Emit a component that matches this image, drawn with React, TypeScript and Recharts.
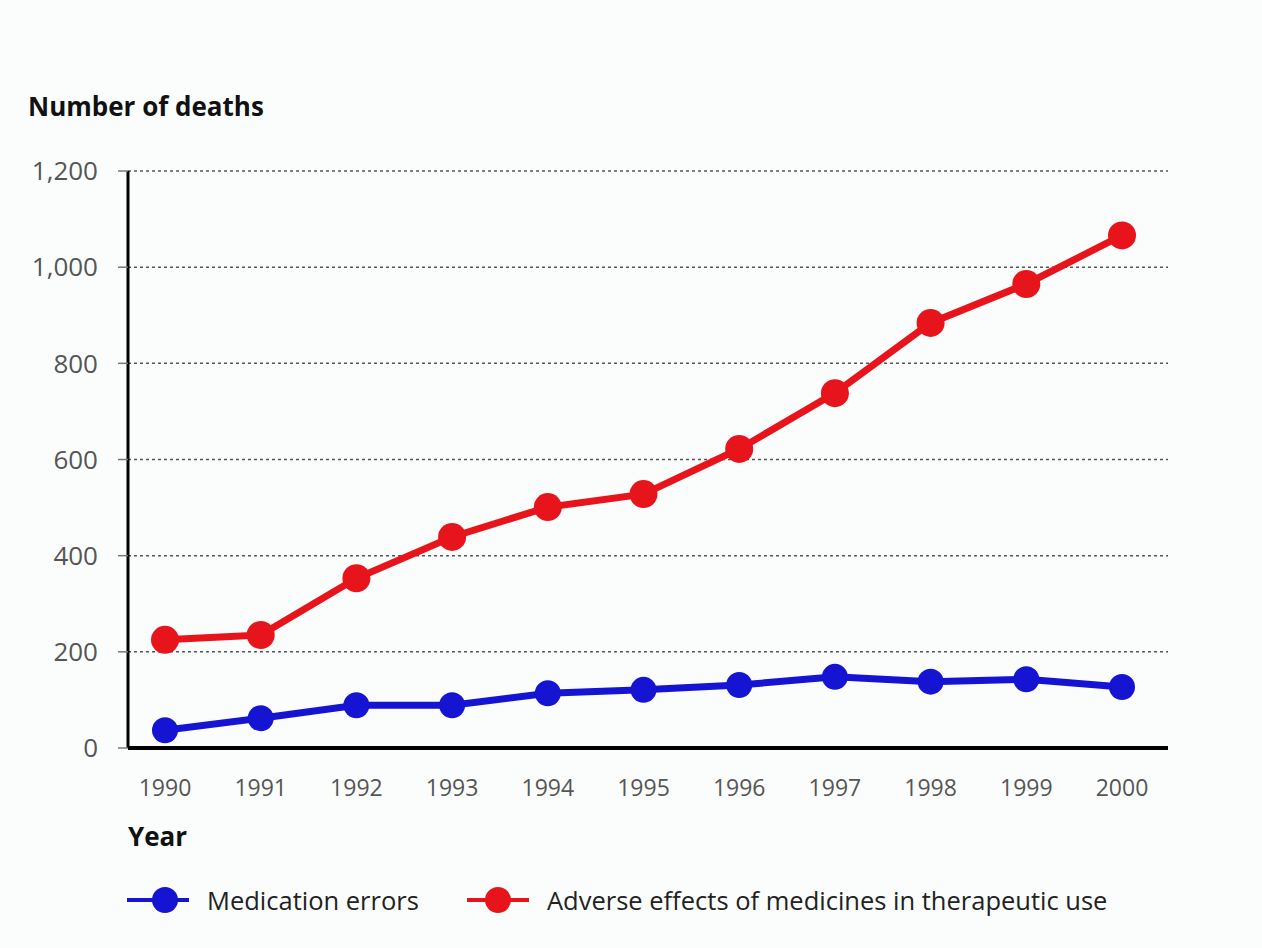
import { LineChart, Line, XAxis, YAxis, CartesianGrid } from 'recharts';

// Deaths per year, 1990–2000
const years = ['1990', '1991', '1992', '1993', '1994', '1995', '1996', '1997', '1998', '1999', '2000'];
const medicationErrors = [37, 62, 89, 89, 114, 121, 131, 148, 138, 143, 127];
const adverseEffects = [225, 235, 353, 439, 501, 528, 622, 738, 884, 965, 1066];
const yTicks = [0, 200, 400, 600, 800, 1000, 1200];

const seriesNames = {
  medication: 'Medication errors',
  adverse: 'Adverse effects of medicines in therapeutic use',
};

const BLUE = '#1414d2';
const RED = '#e8141c';
const FONT = '"Open Sans", "Noto Sans", sans-serif';

const data = years.map((year, i) => ({
  year,
  medication: medicationErrors[i],
  adverse: adverseEffects[i],
}));

const formatThousands = (v: number) => v.toLocaleString('en-US');

function LegendItem({ color, label, left, dotX }: { color: string; label: string; left: number; dotX: number }) {
  return (
    <div style={{ position: 'absolute', left, top: 0, display: 'flex', alignItems: 'center', height: 30 }}>
      <svg width={62} height={30} style={{ marginRight: 18 }}>
        <line x1={0} y1={15} x2={62} y2={15} stroke={color} strokeWidth={4} />
        <circle cx={dotX} cy={15} r={13} fill={color} />
      </svg>
      <span style={{ whiteSpace: 'nowrap' }}>{label}</span>
    </div>
  );
}

export default function App() {
  return (
    <div
      style={{
        position: 'absolute',
        left: 0,
        top: 0,
        width: 1262,
        height: 948,
        background: '#fbfdfd',
        fontFamily: FONT,
      }}
    >
      <div style={{ position: 'absolute', left: 28, top: 88, fontSize: 26, fontWeight: 700, color: '#111' }}>
        Number of deaths
      </div>
      <div style={{ position: 'absolute', left: 128, top: 818, fontSize: 26, fontWeight: 700, color: '#111' }}>
        Year
      </div>
      <div
        style={{
          position: 'absolute',
          left: 0,
          top: 885,
          width: 1262,
          height: 30,
          fontSize: 25.5,
          color: '#222',
        }}
      >
        <LegendItem color={BLUE} label={seriesNames.medication} left={127} dotX={38} />
        <LegendItem color={RED} label={seriesNames.adverse} left={467} dotX={31} />
      </div>
      <LineChart
        width={1262}
        height={948}
        data={data}
        margin={{ top: 171, right: 94, bottom: 170, left: 0 }}
        style={{ position: 'absolute', left: 0, top: 0 }}
      >
        <CartesianGrid
          vertical={false}
          stroke="#555"
          strokeWidth={1.5}
          strokeDasharray="3 3"
        />
        <XAxis
          dataKey="year"
          scale="point"
          height={30}
          padding={{ left: 37, right: 46 }}
          axisLine={{ stroke: '#000', strokeWidth: 4 }}
          tickLine={false}
          tickSize={0}
          tickMargin={32}
          tick={{ fontSize: 23, fill: '#555', fontFamily: FONT }}
        />
        <YAxis
          width={128}
          domain={[0, 1200]}
          ticks={yTicks}
          interval={0}
          tickFormatter={formatThousands}
          axisLine={{ stroke: '#000', strokeWidth: 3 }}
          tickLine={{ stroke: '#777', strokeWidth: 1.5 }}
          tickSize={10}
          tickMargin={20}
          tick={{ fontSize: 26, fill: '#555', fontFamily: FONT }}
        />
        <Line
          dataKey="medication"
          name={seriesNames.medication}
          type="linear"
          stroke={BLUE}
          strokeWidth={7}
          dot={{ r: 13, fill: BLUE, stroke: 'none' }}
          isAnimationActive={false}
        />
        <Line
          dataKey="adverse"
          name={seriesNames.adverse}
          type="linear"
          stroke={RED}
          strokeWidth={7}
          dot={{ r: 14, fill: RED, stroke: 'none' }}
          isAnimationActive={false}
        />
      </LineChart>
    </div>
  );
}
